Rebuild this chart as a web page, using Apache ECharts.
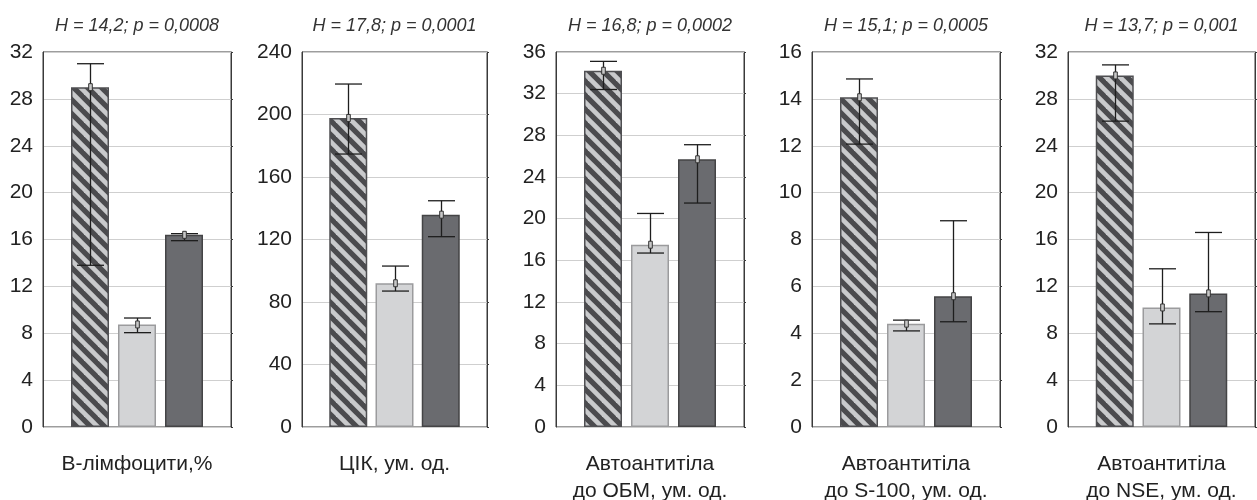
<!DOCTYPE html>
<html><head><meta charset="utf-8">
<script src="https://cdn.jsdelivr.net/npm/echarts@6/dist/echarts.min.js"></script>
<style>html,body{margin:0;padding:0;background:#fff}#c{width:1257px;height:500px}</style>
</head><body><div id="c"></div>
<script>
// ---- data ----
const categories = ['В-лімфоцити,%', 'ЦІК, ум. од.', 'Автоантитіла\nдо ОБМ, ум. од.', 'Автоантитіла\nдо S-100, ум. од.', 'Автоантитіла\nдо NSE, ум. од.'];
const statLabels = ['H = 14,2; p = 0,0008', 'H = 17,8; p = 0,0001', 'H = 16,8; p = 0,0002', 'H = 15,1; p = 0,0005', 'H = 13,7; p = 0,001'];
const yMax = [32, 240, 36, 16, 32];
const yInterval = [4, 40, 4, 2, 4];
// group 1 (hatched)
const g1Median = [29.0, 197.8, 34.2, 14.07, 30.0];
const g1Low = [13.8, 174.7, 32.4, 12.07, 26.1];
const g1High = [31.0, 219.5, 35.1, 14.85, 30.9];
// group 2 (light grey)
const g2Median = [8.75, 92.0, 17.5, 4.41, 10.2];
const g2Low = [8.05, 87.0, 16.7, 4.1, 8.8];
const g2High = [9.3, 103.0, 20.5, 4.56, 13.5];
// group 3 (dark grey)
const g3Median = [16.4, 135.9, 25.7, 5.58, 11.4];
const g3Low = [15.9, 121.8, 21.5, 4.49, 9.84];
const g3High = [16.5, 144.8, 27.1, 8.8, 16.6];
const groupPos = [1, 2, 3];

// ---- layout ----
const plotLeft = [43, 302, 556, 812, 1068];
const plotWidth = [188, 185, 188, 188, 187];
const plotTop = 52, plotHeight = 375;

// hatch pattern
const pc = document.createElement('canvas');
pc.width = 14; pc.height = 14;
const ctx = pc.getContext('2d');
ctx.fillStyle = '#c9cacc'; ctx.fillRect(0, 0, 14, 14);
ctx.strokeStyle = '#4b4b4e'; ctx.lineWidth = 5.2;
for (let k = -2; k <= 2; k++) { ctx.beginPath(); ctx.moveTo(k * 14 - 4, -4); ctx.lineTo(k * 14 + 18, 18); ctx.stroke(); }

const barStyles = [
  { color: { image: pc, repeat: 'repeat' }, borderColor: '#4f4f52', borderWidth: 1.5 },
  { color: '#d3d4d6', borderColor: '#9b9b9d', borderWidth: 1.5 },
  { color: '#6a6b6f', borderColor: '#444446', borderWidth: 1.5 }
];

const grids = [], xAxes = [], yAxes = [], series = [], titles = [];
for (let i = 0; i < 5; i++) {
  grids.push({ left: plotLeft[i], top: plotTop, width: plotWidth[i], height: plotHeight, show: true, borderColor: '#3a3a3a', borderWidth: 1, backgroundColor: 'transparent' });
  xAxes.push({ type: 'value', gridIndex: i, min: 0, max: 4, show: false });
  yAxes.push({ type: 'value', gridIndex: i, min: 0, max: yMax[i], interval: yInterval[i],
    axisLine: { show: true, lineStyle: { color: '#3a3a3a', width: 1 } },
    axisTick: { show: false },
    axisLabel: { fontSize: 21, color: '#222', margin: 10, fontFamily: 'Liberation Sans' },
    splitLine: { show: true, lineStyle: { color: '#cfcfcf', width: 1.2 } } });
  yAxes.push({ type: 'value', gridIndex: i, min: 0, max: yMax[i], interval: yInterval[i], position: 'right',
    axisLine: { show: true, lineStyle: { color: '#3a3a3a', width: 1 } },
    axisTick: { show: true, length: 2, lineStyle: { color: '#3a3a3a' } },
    axisLabel: { show: false }, splitLine: { show: false } });
  const meds = [g1Median[i], g2Median[i], g3Median[i]];
  const lows = [g1Low[i], g2Low[i], g3Low[i]];
  const highs = [g1High[i], g2High[i], g3High[i]];
  series.push({ type: 'bar', xAxisIndex: i, yAxisIndex: 2 * i, barWidth: 38, silent: true,
    data: groupPos.map((x, j) => ({ value: [x, meds[j]], itemStyle: barStyles[j] })) });
  series.push({ type: 'custom', xAxisIndex: i, yAxisIndex: 2 * i, silent: true, z: 5,
    data: groupPos.map((x, j) => [x, lows[j], highs[j], meds[j]]),
    renderItem: function (params, api) {
      const lo = api.coord([api.value(0), api.value(1)]);
      const hi = api.coord([api.value(0), api.value(2)]);
      const md = api.coord([api.value(0), api.value(3)]);
      const x = Math.round(lo[0]) + 0.5, hw = 13.5;
      const ls = { stroke: '#1e1e1e', lineWidth: 1.3 };
      return { type: 'group', children: [
        { type: 'line', shape: { x1: x, y1: lo[1], x2: x, y2: hi[1] }, style: ls },
        { type: 'line', shape: { x1: x - hw, y1: lo[1], x2: x + hw, y2: lo[1] }, style: ls },
        { type: 'line', shape: { x1: x - hw, y1: hi[1], x2: x + hw, y2: hi[1] }, style: ls },
        { type: 'rect', shape: { x: x - 1.8, y: md[1] - 3.5, width: 3.6, height: 7 }, style: { fill: '#c8c8c8', stroke: '#333', lineWidth: 1 } }
      ] };
    } });
  const cx = plotLeft[i] + plotWidth[i] / 2;
  titles.push({ text: statLabels[i], left: cx, top: 16, textAlign: 'center', padding: 0,
    textStyle: { fontSize: 18, fontStyle: 'italic', fontWeight: 'normal', color: '#333', fontFamily: 'Liberation Sans', lineHeight: 20 } });
  titles.push({ text: categories[i], left: cx, top: 451, textAlign: 'center', padding: 0,
    textStyle: { fontSize: 21, fontWeight: 'normal', color: '#222', lineHeight: 27, fontFamily: 'Liberation Sans' } });
}

const chart = echarts.init(document.getElementById('c'), null, { renderer: 'canvas' });
chart.setOption({ animation: false, backgroundColor: '#fff', title: titles, grid: grids, xAxis: xAxes, yAxis: yAxes, series: series });
</script></body></html>
